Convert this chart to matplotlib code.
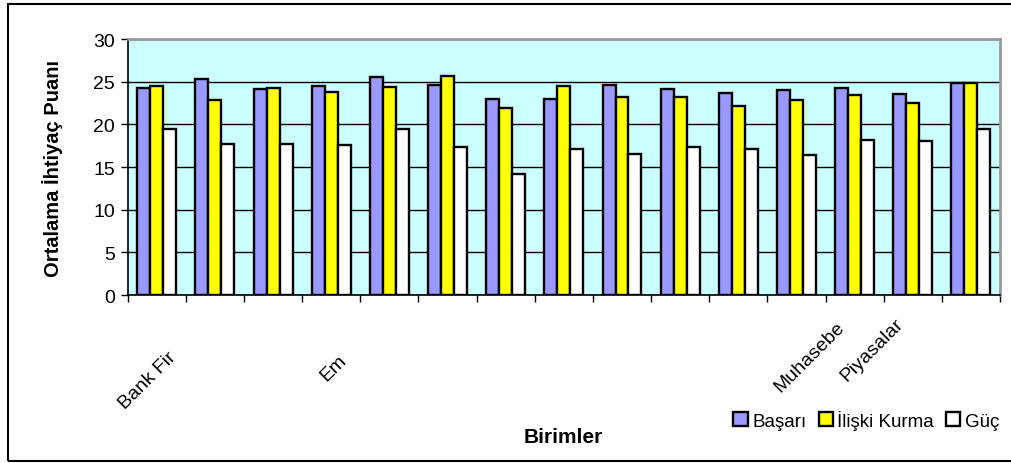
import matplotlib.pyplot as plt
import numpy as np
from matplotlib.patches import Patch, Rectangle
from matplotlib.transforms import blended_transform_factory

plt.rcParams['font.family'] = ['Liberation Sans', 'DejaVu Sans']

# birim adlari (okunabilenler), 15 birim
birimler = ['Bank Fir', '', '', 'Em', '', '', '', '', '', '', '', 'Muhasebe', 'Piyasalar', '', '']
basari = [24.3, 25.3, 24.1, 24.45, 25.5, 24.6, 23.0, 23.0, 24.6, 24.1, 23.7, 24.05, 24.3, 23.6, 24.9]
iliski = [24.45, 22.85, 24.3, 23.8, 24.4, 25.7, 21.9, 24.5, 23.2, 23.2, 22.1, 22.8, 23.5, 22.5, 24.8]
guc = [19.4, 17.65, 17.75, 17.6, 19.45, 17.35, 14.2, 17.1, 16.55, 17.4, 17.15, 16.4, 18.15, 18.0, 19.5]

seriler = ['Başarı', 'İlişki Kurma', 'Güç']
renkler = ['#9999FF', '#FFFF00', '#FFFFFF']

fig = plt.figure(figsize=(10.11, 4.64), dpi=100)
ax = fig.add_axes([0.1263, 0.362, 0.8628, 0.5517])
ax.set_facecolor('#CCFFFF')

x = np.arange(len(basari))
w = 0.223
for k, (vals, renk) in enumerate(zip([basari, iliski, guc], renkler)):
    ax.bar(x + (k - 1) * w, vals, width=w, color=renk, edgecolor='black',
           linewidth=1.7, zorder=3)

ax.set_xlim(-0.5, len(basari) - 0.5)
ax.set_ylim(0, 30)
ax.set_yticks(range(0, 31, 5))
ax.yaxis.grid(True, color='black', linewidth=1.0, zorder=1)
ax.set_xticks(np.arange(len(basari) + 1) - 0.5)
ax.set_xticklabels([])
ax.tick_params(axis='both', direction='out', length=5, width=1, labelsize=14)
ax.tick_params(axis='y', pad=4)

for s in ['left', 'bottom']:
    ax.spines[s].set_color('black')
    ax.spines[s].set_linewidth(1.2)
for s in ['top', 'right']:
    ax.spines[s].set_color('#999999')
    ax.spines[s].set_linewidth(2)

# kesik birim etiketleri
tr = blended_transform_factory(ax.transData, ax.transAxes)
konum = {0: (-0.54, -0.445), 3: (2.91, -0.336), 11: (10.72, -0.379), 12: (11.87, -0.336)}
for i, ad in enumerate(birimler):
    if ad:
        px, py = konum[i]
        ax.text(px, py, ad, transform=tr, rotation=45, rotation_mode='anchor',
                ha='left', va='baseline', fontsize=14)

ax.set_ylabel('Ortalama İhtiyaç Puanı', fontsize=14.5, fontweight='bold', labelpad=22)
fig.text(0.557, 0.058, 'Birimler', ha='center', va='center', fontsize=15, fontweight='bold')

handles = [Patch(facecolor=c, edgecolor='black', linewidth=1.7) for c in renkler]
fig.legend(handles, seriler, loc='center', bbox_to_anchor=(0.857, 0.093), ncol=3,
           frameon=False, fontsize=13.5, handlelength=0.75, handleheight=0.75,
           handletextpad=0.25, columnspacing=0.65)

# dis cerceve
fig.patches.append(Rectangle((0.008, 0.004), 1.1, 0.985, transform=fig.transFigure,
                             fill=False, edgecolor='black', linewidth=1.5))

fig.savefig('out.png', dpi=100)
